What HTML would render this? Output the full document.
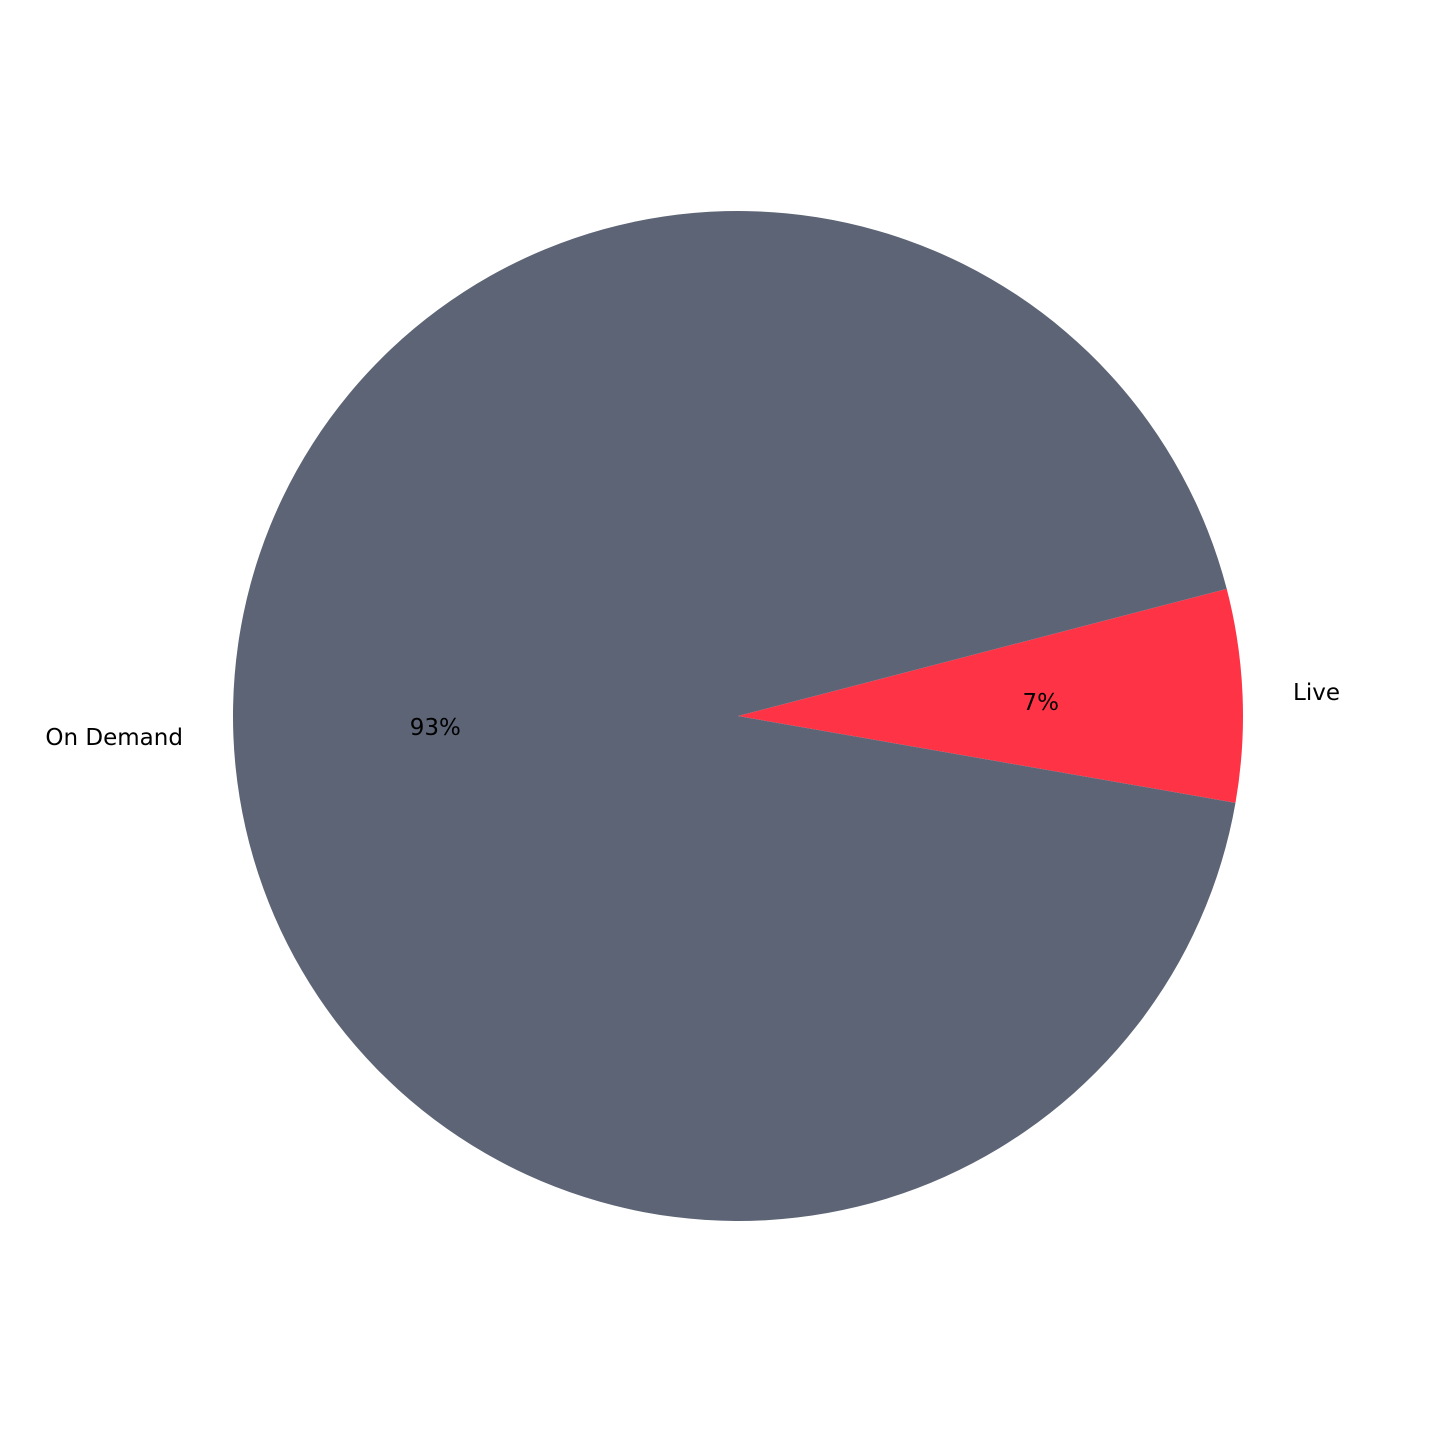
<!DOCTYPE html>
<html><head><meta charset="utf-8"><style>html,body{margin:0;padding:0;background:#fff;}svg text{font-family:"DejaVu Sans","Liberation Sans",sans-serif;font-size:23px;fill:#000;}</style></head>
<body>
<svg id="chart" width="1440" height="1440" viewBox="0 0 1440 1440" xmlns="http://www.w3.org/2000/svg"></svg>
<script>
const categories = ["Live", "On Demand"];
const values = [6.8, 93.2];
const colors = ["#ff3346", "#5c6475"];
const cx = 738, cy = 716, r = 505;
const startAngle = -9.9;
const svg = document.getElementById('chart');
const NS = 'http://www.w3.org/2000/svg';
const total = values.reduce((a,b)=>a+b,0);
let a0 = startAngle;
function pt(angDeg, rad){const t=angDeg*Math.PI/180;return [cx+rad*Math.cos(t), cy-rad*Math.sin(t)];}
values.forEach((v,i)=>{
  const span = v/total*360;
  const a1 = a0+span;
  const p0 = pt(a0,r), p1 = pt(a1,r);
  const large = span>180?1:0;
  const path = document.createElementNS(NS,'path');
  path.setAttribute('d',`M${cx},${cy} L${p0[0]},${p0[1]} A${r},${r} 0 ${large} 0 ${p1[0]},${p1[1]} Z`);
  path.setAttribute('fill',colors[i]);
  
  
  svg.appendChild(path);
  const mid = (a0+a1)/2;
  const lp = pt(mid, r*1.1);
  const lab = document.createElementNS(NS,'text');
  lab.setAttribute('x',lp[0]); lab.setAttribute('y',lp[1]);
  lab.setAttribute('dominant-baseline','middle');
  lab.setAttribute('text-anchor', Math.cos(mid*Math.PI/180)>=0?'start':'end');
  lab.textContent = categories[i];
  
  
  svg.appendChild(lab);
  const pp = pt(mid, r*0.6);
  const pct = document.createElementNS(NS,'text');
  pct.setAttribute('x',pp[0]); pct.setAttribute('y',pp[1]);
  pct.setAttribute('dominant-baseline','middle');
  pct.setAttribute('text-anchor','middle');
  pct.textContent = Math.round(v/total*100)+'%';
  
  
  svg.appendChild(pct);
  a0 = a1;
});
</script>
</body></html>
